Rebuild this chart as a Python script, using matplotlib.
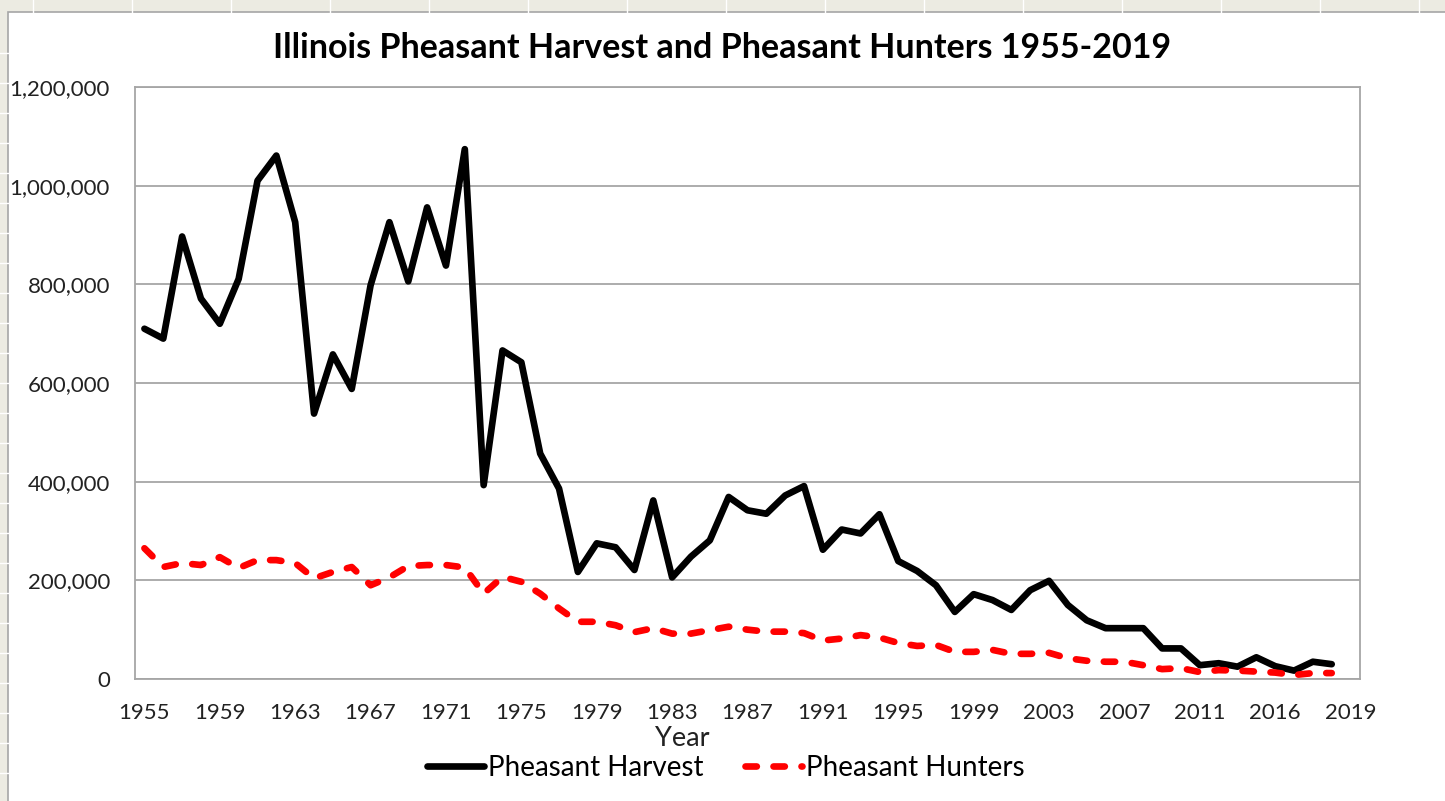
import numpy as np
import matplotlib.pyplot as plt
from matplotlib.lines import Line2D
from matplotlib.patches import Rectangle
from matplotlib.ticker import StrMethodFormatter

# Harvest and hunters per season, one value per category (1955 onward)
harvest = [710000, 690000, 897000, 771000, 720000, 811000, 1010000, 1061000, 926000, 538000,
           658000, 588000, 798000, 926000, 806000, 956000, 838000, 1074000, 393000, 666000,
           642000, 457000, 386000, 217000, 275000, 267000, 221000, 362000, 206000, 248000,
           281000, 369000, 342000, 335000, 372000, 391000, 262000, 303000, 295000, 334000,
           239000, 219000, 190000, 136000, 172000, 160000, 140000, 180000, 199000, 150000,
           119000, 103000, 103000, 103000, 62000, 62000, 28000, 32000, 25000, 44000,
           26000, 17000, 35000, 30000]
hunters = [265000, 227000, 235000, 231000, 247000, 225000, 241000, 241000, 235000, 204000,
           217000, 227000, 190000, 206000, 229000, 231000, 231000, 226000, 173000, 207000,
           197000, 173000, 143000, 116000, 116000, 109000, 95000, 103000, 92000, 92000,
           99000, 106000, 100000, 96000, 96000, 93000, 78000, 82000, 89000, 84000,
           73000, 67000, 69000, 55000, 55000, 59000, 51000, 51000, 53000, 42000,
           37000, 35000, 35000, 28000, 20000, 22000, 14000, 18000, 17000, 15000,
           13000, 8000, 12000, 12000]
n_categories = 65
tick_labels = ["1955", "1959", "1963", "1967", "1971", "1975", "1979", "1983", "1987",
               "1991", "1995", "1999", "2003", "2007", "2011", "2016", "2019"]

W, H = 1445, 801
plt.rcParams['font.family'] = ['Lato', 'DejaVu Sans']

fig = plt.figure(figsize=(W / 100, H / 100), dpi=100)
fig.patch.set_facecolor('#ECEBE2')

# spreadsheet cell lines behind the chart
for xc in range(33, W, 99):
    fig.add_artist(Line2D([xc / W, xc / W], [1 - 12 / H, 1], color='white', lw=1))
for yc in range(53, H, 30):
    fig.add_artist(Line2D([0, 8 / W], [1 - yc / H, 1 - yc / H], color='white', lw=1))

# chart area
fig.add_artist(Rectangle((8 / W, -0.01), 1.0, 1 - 12 / H + 0.01, transform=fig.transFigure,
                         facecolor='white', edgecolor='#A6A6A6', lw=1.2, zorder=0))

ax = fig.add_axes([135 / W, 1 - 679 / H, 1225 / W, 592 / H])
ax.set_facecolor('white')
x = np.arange(len(harvest))
ax.plot(x, harvest, color='black', lw=4.8, solid_capstyle='round', solid_joinstyle='round',
        label='Pheasant Harvest', zorder=3)
ax.plot(np.arange(len(hunters)), hunters, color='#FF0000', lw=4.8, dashes=(1.7, 2.5),
        dash_capstyle='round', label='Pheasant Hunters', zorder=3)

ax.set_xlim(-0.5, n_categories - 0.5)
ax.set_ylim(0, 1200000)
ax.set_yticks(np.arange(0, 1200001, 200000))
ax.yaxis.set_major_formatter(StrMethodFormatter('{x:,.0f}'))
ax.set_xticks(np.arange(0, n_categories, 4))
ax.set_xticklabels(tick_labels)
ax.tick_params(axis='both', length=0, labelsize=16, colors='#222222')
ax.tick_params(axis='y', pad=18)
ax.tick_params(axis='x', pad=17)
ax.grid(axis='y', color='#A6A6A6', lw=1.3)
ax.set_axisbelow(True)
for s in ax.spines.values():
    s.set_color('#A6A6A6')
    s.set_linewidth(1.3)

fig.text(722 / W, 1 - 48 / H, 'Illinois Pheasant Harvest and Pheasant Hunters 1955-2019',
         ha='center', va='center', fontsize=24.5, fontweight='bold', color='black')
fig.text(682 / W, 1 - 738 / H, 'Year', ha='center', va='center', fontsize=19.5, color='#222222')

fig.legend(loc='center', bbox_to_anchor=(726 / W, 1 - 768 / H), ncol=2, frameon=False,
           fontsize=20, handlelength=2.05, handletextpad=0.15, columnspacing=1.5)

fig.savefig('out.png', dpi=100, facecolor=fig.get_facecolor())
